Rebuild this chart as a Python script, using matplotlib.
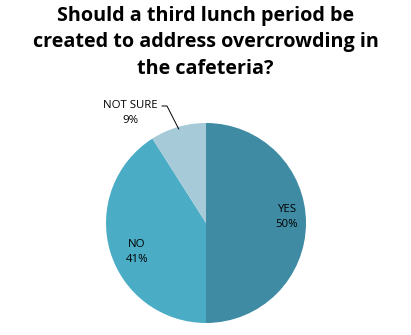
import numpy as np
import matplotlib
matplotlib.use("Agg")
import matplotlib.pyplot as plt

categories = ["YES", "NO", "NOT SURE"]
shares = [50, 41, 9]
colors = ["#3f8ba3", "#4bacc6", "#a6cad8"]
title = "Should a third lunch period be\ncreated to address overcrowding in\nthe cafeteria?"

fig = plt.figure(figsize=(4.11, 3.35), dpi=100)
fig.patch.set_facecolor("white")

fig.text(0.5, 1 - 6 / 335, title, ha="center", va="top", fontsize=14.2,
         fontweight="bold", family=["Open Sans", "DejaVu Sans"],
         linespacing=1.42, color="#000000")

W, H = 411, 335
cx, cy, r = 206, 223, 100
ax = fig.add_axes([(cx - r) / W, (H - cy - r) / H, 2 * r / W, 2 * r / H])

wedges, _ = ax.pie(shares, colors=colors, startangle=90, counterclock=False,
                   radius=1, wedgeprops=dict(linewidth=0))
ax.set_xlim(-1, 1)
ax.set_ylim(-1, 1)
ax.set_aspect("equal")
ax.axis("off")

lab_font = dict(fontsize=8.2, family=["Open Sans", "DejaVu Sans"], color="#000000",
                ha="center", va="center", linespacing=1.4)

for w, name, val in zip(wedges, categories, shares):
    mid = np.deg2rad((w.theta1 + w.theta2) / 2)
    txt = f"{name}\n{val}%"
    if name == "NOT SURE":
        ax.text(-0.76, 1.10, txt, clip_on=False, **lab_font)
        # leader line from label to wedge edge
        ex, ey = 0.98 * np.cos(mid), 0.98 * np.sin(mid)
        ax.plot([-0.44, -0.39, ex], [1.17, 1.17, ey], color="#000000",
                lw=0.7, clip_on=False)
    elif name == "YES":
        ax.text(0.81 * np.cos(mid), 0.81 * np.sin(mid) + 0.06, txt, **lab_font)
    else:
        ax.text(0.72 * np.cos(mid), 0.72 * np.sin(mid) - 0.09, txt, **lab_font)

fig.savefig("out.png", dpi=100, facecolor="white")
